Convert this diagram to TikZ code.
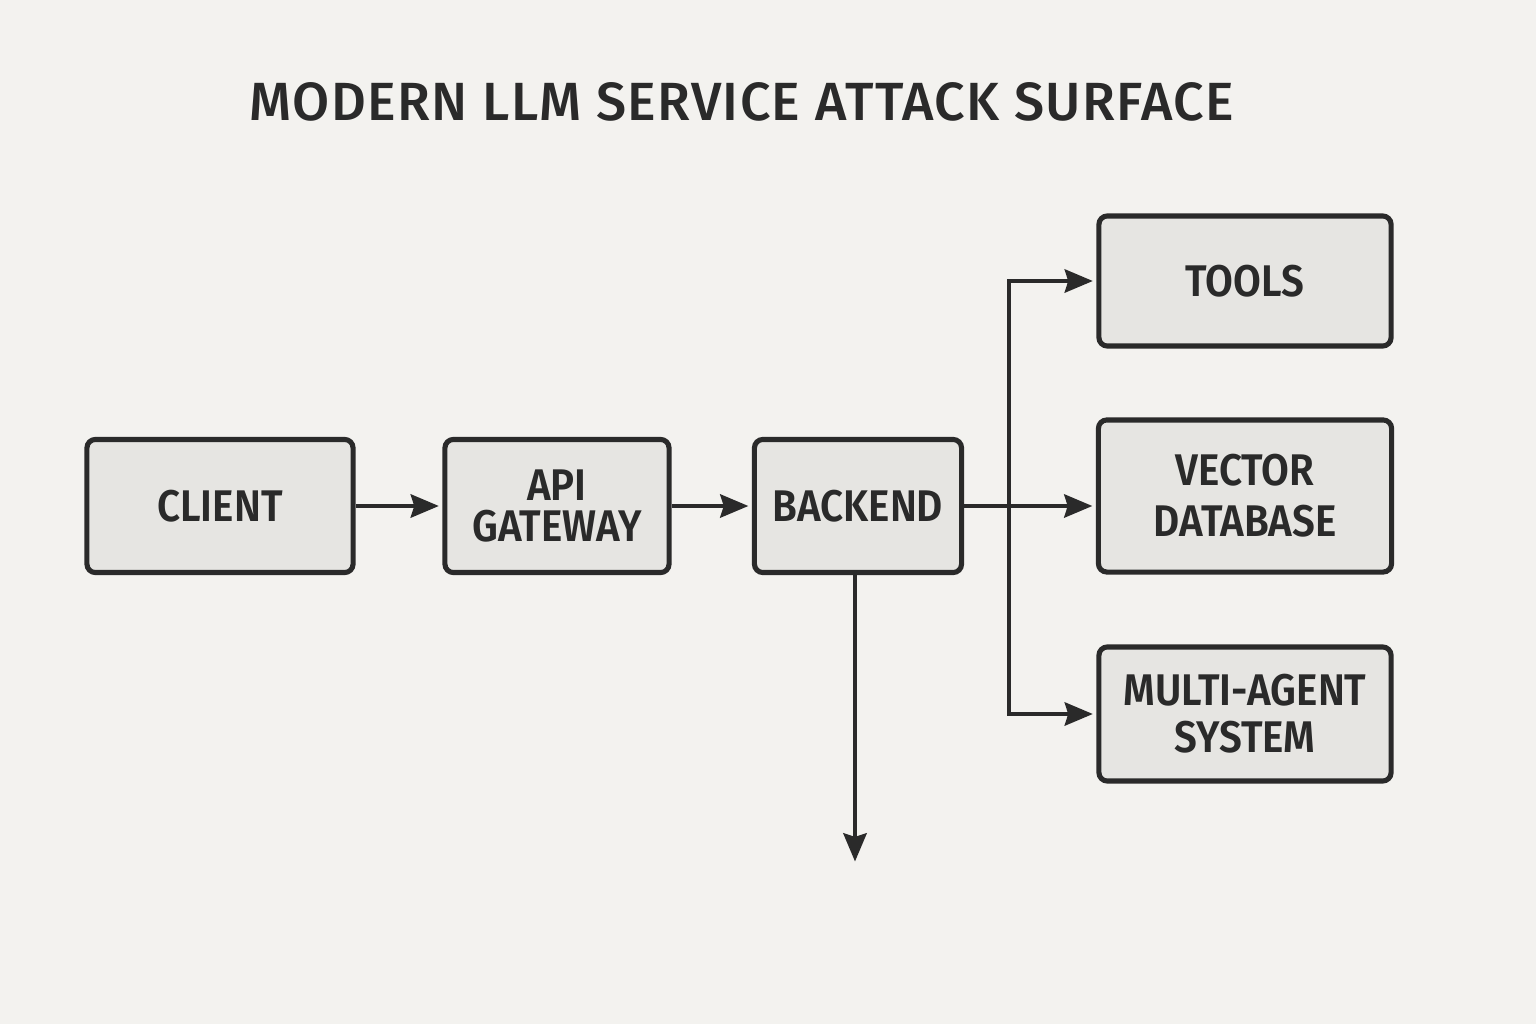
\documentclass[tikz,border=0pt]{standalone}
\usepackage{fontspec}
\setmainfont{Fira Sans}
\newfontfamily\titlefont[LetterSpace=2.5]{Fira Sans Medium}
\newfontfamily\boxfont[FakeStretch=0.91]{Fira Sans SemiBold}
\usetikzlibrary{arrows.meta}
\definecolor{paper}{HTML}{F3F2EF}
\definecolor{boxfill}{HTML}{E6E5E2}
\definecolor{ink}{HTML}{2A2A2A}

\begin{document}
\begin{tikzpicture}[x=0.01cm,y=-0.01cm,>={Stealth[length=8pt,width=6.6pt,inset=1pt]},
    box/.style={draw=ink,fill=boxfill,line width=1.45pt,rounded corners=2.4pt,
        inner sep=0pt,align=center,text=ink,
        font=\boxfont\fontsize{12.6}{13.4}\selectfont},
    link/.style={->,draw=ink,line width=1.2pt,shorten >=1pt}]
    % sheet (fixes the page size)
    \fill[paper] (0,0) rectangle (1536,1024);
    \useasboundingbox (0,0) rectangle (1536,1024);

    \node[ink,font=\titlefont\fontsize{15.3}{18}\selectfont] (title) at (742,102)
        {MODERN LLM SERVICE ATTACK SURFACE};

    %======================================================
    % request path
    %======================================================
    \node[box,minimum width=2.66cm,minimum height=1.33cm] (client) at (220,506) {CLIENT};
    \node[box,minimum width=2.24cm,minimum height=1.33cm] (api) at (557,506)
        {API\\[-1.5pt]GATEWAY};
    \node[box,minimum width=2.07cm,minimum height=1.33cm] (backend) at (858,506) {BACKEND};

    \draw[link] (client.east) -- (api.west);
    \draw[link] (api.east) -- (backend.east -| backend.west);

    %======================================================
    % services behind the backend
    %======================================================
    \node[box,minimum width=2.92cm,minimum height=1.30cm] (tools) at (1245,281) {TOOLS};
    \node[box,minimum width=2.93cm,minimum height=1.52cm] (vector) at (1245,496)
        {VECTOR\\[1.1pt]DATABASE};
    \node[box,minimum width=2.92cm,minimum height=1.34cm] (agent) at (1245,714)
        {MULTI-AGENT\\SYSTEM};

    % fork
    \coordinate (fork) at (1009,506);
    \draw[link] (backend.east) -- (backend.east -| vector.west);
    \draw[link] (fork) |- (tools.west);
    \draw[link] (fork) |- (agent.west);

    % open end below the backend
    \coordinate (drop) at (855,865);
    \draw[link] (backend.south -| drop) -- (drop);
\end{tikzpicture}
\end{document}
